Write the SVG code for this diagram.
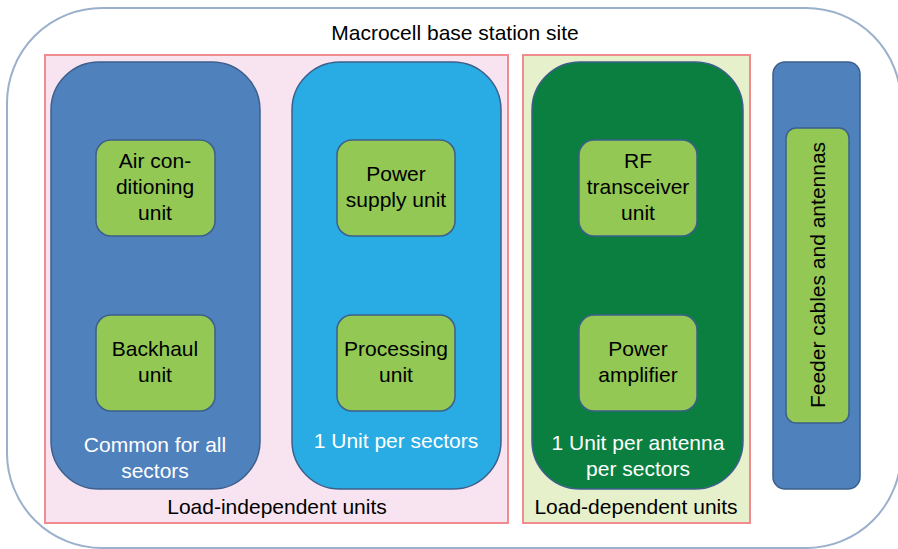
<svg xmlns="http://www.w3.org/2000/svg" width="898" height="549" viewBox="0 0 898 549">
  <style>
    text { font-family: "Liberation Sans", Arial, sans-serif; font-size: 21px; text-anchor: middle; }
    .dark { fill: #000; }
    .light { fill: #fff; }
    .zone { stroke: #f08c8f; stroke-width: 2; }
    .col { stroke: #3d5f8c; stroke-width: 1.5; }
    .unit { fill: #92c853; stroke: #3d5f8c; stroke-width: 1.5; }
  </style>

  <!-- site boundary -->
  <g id="site">
    <rect x="7" y="8" width="894" height="540" rx="95" ry="95" fill="#fff" stroke="#9ab0cb" stroke-width="2"/>
    <text class="dark" x="455" y="40">Macrocell base station site</text>
  </g>

  <!-- load groupings -->
  <g id="load-independent">
    <rect class="zone" x="45" y="55" width="463" height="468" fill="#f8e4f0"/>
    <text class="dark" x="277" y="514">Load-independent units</text>
  </g>
  <g id="load-dependent">
    <rect class="zone" x="523" y="55" width="227" height="468" fill="#e6f0ca"/>
    <text class="dark" x="636" y="514">Load-dependent units</text>
  </g>

  <!-- columns -->
  <g id="common-column">
    <rect class="col" x="51" y="62" width="209" height="427" rx="48" ry="48" fill="#4f81bd"/>
    <text class="light" x="155" y="452">Common for all</text>
    <text class="light" x="155" y="478">sectors</text>
  </g>
  <g id="sector-column">
    <rect class="col" x="292" y="62" width="209" height="427" rx="48" ry="48" fill="#29ace3"/>
    <text class="light" x="396" y="448">1 Unit per sectors</text>
  </g>
  <g id="antenna-column">
    <rect class="col" x="532" y="62" width="211" height="427" rx="48" ry="48" fill="#0a7f40"/>
    <text class="light" x="638" y="450">1 Unit per antenna</text>
    <text class="light" x="638" y="476">per sectors</text>
  </g>
  <g id="feeder-column">
    <rect class="col" x="773" y="62" width="87" height="427" rx="12" ry="12" fill="#4f81bd"/>
  </g>

  <!-- units -->
  <g id="air-conditioning">
    <rect class="unit" x="96" y="140" width="119" height="96" rx="15" ry="15"/>
    <text class="dark" x="155" y="168">Air con-</text>
    <text class="dark" x="155" y="194">ditioning</text>
    <text class="dark" x="155" y="220">unit</text>
  </g>
  <g id="backhaul">
    <rect class="unit" x="96" y="315" width="119" height="96" rx="15" ry="15"/>
    <text class="dark" x="155" y="356">Backhaul</text>
    <text class="dark" x="155" y="382">unit</text>
  </g>
  <g id="power-supply">
    <rect class="unit" x="337" y="140" width="118" height="96" rx="15" ry="15"/>
    <text class="dark" x="396" y="181">Power</text>
    <text class="dark" x="396" y="207">supply unit</text>
  </g>
  <g id="processing">
    <rect class="unit" x="337" y="315" width="118" height="96" rx="15" ry="15"/>
    <text class="dark" x="396" y="356">Processing</text>
    <text class="dark" x="396" y="382">unit</text>
  </g>
  <g id="rf-transceiver">
    <rect class="unit" x="579" y="140" width="118" height="96" rx="15" ry="15"/>
    <text class="dark" x="638" y="168">RF</text>
    <text class="dark" x="638" y="194">transceiver</text>
    <text class="dark" x="638" y="220">unit</text>
  </g>
  <g id="power-amplifier">
    <rect class="unit" x="579" y="315" width="118" height="96" rx="15" ry="15"/>
    <text class="dark" x="638" y="356">Power</text>
    <text class="dark" x="638" y="382">amplifier</text>
  </g>
  <g id="feeder-cables">
    <rect class="unit" x="786" y="128" width="63" height="295" rx="10" ry="10"/>
    <text class="dark" transform="translate(825 275) rotate(-90)">Feeder cables and antennas</text>
  </g>

  <!-- no connectors in this diagram -->
  <g id="connectors"/>
</svg>
